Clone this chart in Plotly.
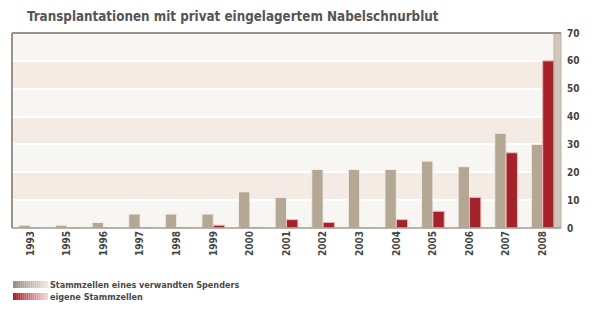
import plotly.graph_objects as go

years = ["1993", "1995", "1996", "1997", "1998", "1999", "2000", "2001",
         "2002", "2003", "2004", "2005", "2006", "2007", "2008"]
verwandt = [1, 1, 2, 5, 5, 5, 13, 11, 21, 21, 21, 24, 22, 34, 30]
eigene = [0, 0, 0, 0, 0, 1, 0, 3, 2, 0, 3, 6, 11, 27, 60]
yticks = [0, 10, 20, 30, 40, 50, 60, 70]

title = "Transplantationen mit privat eingelagertem Nabelschnurblut"
legend_names = ["Stammzellen eines verwandten Spenders", "eigene Stammzellen"]

FONT = "DejaVu Sans Condensed"
GRAY = "#b4a794"
RED = "#a3232a"

fig = go.Figure()
fig.add_trace(go.Bar(x=years, y=verwandt, name=legend_names[0],
                     marker=dict(color=GRAY, line=dict(color="#f2ede6", width=1))))
fig.add_trace(go.Bar(x=years, y=eigene, name=legend_names[1],
                     marker=dict(color=RED, line=dict(color="#f0b8b5", width=1))))

shapes = []
for i, lo in enumerate(yticks[:-1]):
    col = "#f8f6f2" if i % 2 == 0 else "#f4ebe4"
    shapes.append(dict(type="rect", xref="paper", yref="y", x0=0, x1=1, y0=lo, y1=lo + 10,
                       fillcolor=col, line=dict(width=0), layer="below"))
# right wall
shapes.append(dict(type="rect", xref="paper", yref="paper",
                   x0=(554 - 12) / 549, x1=1, y0=0, y1=1,
                   fillcolor="#d0c6ba", line=dict(color="#bcb1a4", width=1), layer="above"))
shapes.append(dict(type="line", xref="paper", yref="paper", x0=0, x1=0, y0=0, y1=1,
                   line=dict(color="#9b938b", width=2)))
shapes.append(dict(type="line", xref="paper", yref="paper", x0=0, x1=1, y0=1, y1=1,
                   line=dict(color="#9b938b", width=2)))
shapes.append(dict(type="line", xref="paper", yref="paper", x0=0, x1=1, y0=0, y1=0,
                   line=dict(color="#a39b93", width=1.5)))

def grad(y0, y1, c0, c1, n=18):
    x0, x1 = 13, 48
    for k in range(n):
        t = k / (n - 1)
        r = int(c0[0] + (c1[0] - c0[0]) * t)
        g = int(c0[1] + (c1[1] - c0[1]) * t)
        b = int(c0[2] + (c1[2] - c0[2]) * t)
        xa = x0 + (x1 - x0) * k / n
        xb = x0 + (x1 - x0) * (k + 1) / n
        shapes.append(dict(type="rect", xref="paper", yref="paper",
                           x0=(xa - 12) / 549, x1=(xb - 12) / 549,
                           y0=(228 - y0) / 195, y1=(228 - y1) / 195,
                           fillcolor=f"rgb({r},{g},{b})", line=dict(width=0)))

grad(281, 288, (150, 140, 128), (235, 230, 224))
grad(293, 300, (170, 30, 36), (240, 215, 215))

annotations = [
    dict(text=legend_names[0], xref="paper", yref="paper", x=(48 - 12) / 549, y=(228 - 284.5) / 195,
         xanchor="left", yanchor="middle", showarrow=False,
         font=dict(family=FONT, size=9, color="#4a4a4a", weight="bold")),
    dict(text=legend_names[1], xref="paper", yref="paper", x=(48 - 12) / 549, y=(228 - 296.5) / 195,
         xanchor="left", yanchor="middle", showarrow=False,
         font=dict(family=FONT, size=9, color="#4a4a4a", weight="bold")),
]

fig.update_layout(
    width=592, height=321,
    margin=dict(l=12, r=31, t=33, b=93),
    paper_bgcolor="white", plot_bgcolor="#f8f6f2",
    barmode="group", bargap=0.38, bargroupgap=0,
    showlegend=False,
    title=dict(text=title, x=27 / 592, xanchor="left", y=1 - 16 / 321, yanchor="middle",
               font=dict(family=FONT, size=13.3, color="#555555", weight="bold")),
    xaxis=dict(type="category", tickangle=-90, showgrid=False, ticks="", showline=False,
               tickfont=dict(family=FONT, size=10, color="#444444", weight="bold")),
    yaxis=dict(side="right", range=[0, 70], tickvals=yticks, showgrid=True,
               gridcolor="#ffffff", gridwidth=2, zeroline=False, ticks="",
               ticklabelstandoff=5,
               tickfont=dict(family=FONT, size=10, color="#444444", weight="bold")),
    shapes=shapes, annotations=annotations,
)

fig.write_html("out.html")
